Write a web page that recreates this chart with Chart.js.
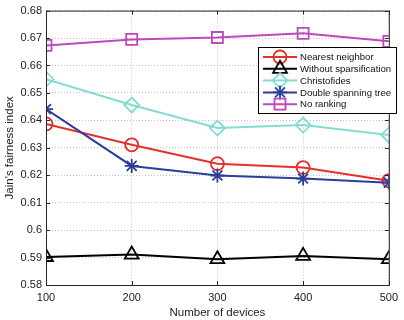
<!DOCTYPE html>
<html>
<head>
<meta charset="utf-8">
<script src="https://cdn.jsdelivr.net/npm/chart.js@4/dist/chart.umd.min.js"></script>
<style>
  body { margin: 0; background: #fff; }
  #wrap { width: 404px; height: 320px; }
</style>
</head>
<body>
<div id="wrap"><canvas id="grafico"></canvas></div>
<script>
// Datos
const devices = [100, 200, 300, 400, 500];
const nearestNeighbor = [0.6387, 0.6311, 0.6242, 0.6228, 0.6180];
const withoutSparsification = [0.5902, 0.5911, 0.5894, 0.5906, 0.5894];
const christofides = [0.6550, 0.6456, 0.6372, 0.6383, 0.6347];
const doubleSpanningTree = [0.6441, 0.6234, 0.6199, 0.6188, 0.6173];
const noRanking = [0.6673, 0.6695, 0.6702, 0.6717, 0.6688];
const yTicks = [0.58, 0.59, 0.6, 0.61, 0.62, 0.63, 0.64, 0.65, 0.66, 0.67, 0.68];
const xTicks = [100, 200, 300, 400, 500];

const FONT = "'Liberation Sans', Arial, Helvetica, sans-serif";

function puntos(valores) {
    return devices.map((d, i) => ({ x: d, y: valores[i] }));
}

function serie(label, valores, color, estilo, radio, orden) {
    return {
        label: label,
        data: puntos(valores),
        borderColor: color,
        backgroundColor: 'transparent',
        borderWidth: 2,
        pointStyle: estilo,
        pointRadius: radio,
        pointHoverRadius: radio,
        pointBorderColor: color,
        pointBackgroundColor: 'transparent',
        pointBorderWidth: 1.8,
        tension: 0,
        order: orden,
    };
}

// Caja, marcas interiores y leyenda al estilo MATLAB
const marcoYLeyenda = {
    id: 'marcoYLeyenda',
    afterDraw(chart) {
        const ctx = chart.ctx;
        const a = chart.chartArea;
        const sx = chart.scales.x;
        const sy = chart.scales.y;
        ctx.save();
        ctx.strokeStyle = '#262626';
        ctx.lineWidth = 1;
        ctx.strokeRect(a.left + 0.5, a.top + 0.5, a.right - a.left, a.bottom - a.top);
        ctx.beginPath();
        xTicks.forEach((v) => {
            const px = Math.round(sx.getPixelForValue(v)) + 0.5;
            ctx.moveTo(px, a.bottom); ctx.lineTo(px, a.bottom - 4);
            ctx.moveTo(px, a.top); ctx.lineTo(px, a.top + 4);
        });
        yTicks.forEach((v) => {
            const py = Math.round(sy.getPixelForValue(v)) + 0.5;
            ctx.moveTo(a.left, py); ctx.lineTo(a.left + 4, py);
            ctx.moveTo(a.right, py); ctx.lineTo(a.right - 4, py);
        });
        ctx.stroke();

        // Leyenda
        const bx = 258, by = 47, bw = 138, bh = 66;
        ctx.fillStyle = '#fff';
        ctx.fillRect(bx, by, bw, bh);
        ctx.strokeStyle = '#000';
        ctx.strokeRect(bx + 0.5, by + 0.5, bw, bh);
        ctx.textBaseline = 'middle';
        chart.data.datasets.forEach((ds, i) => {
            const yy = by + 10 + i * 11.8;
            ctx.strokeStyle = ds.borderColor;
            ctx.lineWidth = 2;
            ctx.beginPath();
            ctx.moveTo(263, yy); ctx.lineTo(297, yy);
            ctx.stroke();
            ctx.lineWidth = 1.8;
            ctx.fillStyle = 'rgba(0,0,0,0)';
            Chart.helpers.drawPoint(ctx, {
                pointStyle: ds.pointStyle,
                radius: ds.pointRadius,
                rotation: 0,
                borderWidth: 1.8,
            }, 280, yy);
            ctx.font = '9.6px ' + FONT;
            ctx.fillStyle = '#111';
            ctx.fillText(ds.label, 300, yy + 0.5);
        });
        ctx.restore();
    },
};

const ctxGrafico = document.getElementById('grafico').getContext('2d');
new Chart(ctxGrafico, {
    type: 'line',
    data: {
        datasets: [
            serie('Nearest neighbor', nearestNeighbor, '#e2302a', 'circle', 6.5, 5),
            serie('Without sparsification', withoutSparsification, '#000000', 'triangle', 8, 4),
            serie('Christofides', christofides, '#82dcd2', 'rectRot', 7.5, 3),
            serie('Double spanning tree', doubleSpanningTree, '#2c3d9c', 'star', 7, 2),
            serie('No ranking', noRanking, '#bf48bd', 'rect', 7.8, 1),
        ],
    },
    options: {
        responsive: true,
        maintainAspectRatio: false,
        animation: false,
        layout: { padding: { top: 9, right: 8, left: 0, bottom: 0 } },
        plugins: {
            legend: { display: false },
            tooltip: { enabled: false },
        },
        scales: {
            x: {
                type: 'linear',
                min: 100,
                max: 500,
                afterBuildTicks: (scale) => { scale.ticks = xTicks.map((v) => ({ value: v })); },
                afterFit: (scale) => { scale.height = 35; },
                ticks: { font: { family: FONT, size: 11 }, color: '#222', padding: 6, maxRotation: 0 },
                grid: { color: '#c4c4c4', drawTicks: false },
                border: { display: false, dash: [1, 2] },
                title: {
                    display: true,
                    text: 'Number of devices',
                    font: { family: FONT, size: 11.5 },
                    color: '#222',
                    padding: { top: 1, bottom: 0 },
                },
            },
            y: {
                min: 0.58,
                max: 0.68,
                afterBuildTicks: (scale) => { scale.ticks = yTicks.map((v) => ({ value: v })); },
                afterFit: (scale) => { scale.width = 46; },
                ticks: {
                    font: { family: FONT, size: 11 },
                    color: '#222',
                    padding: 4,
                    callback: (v) => String(+Number(v).toFixed(2)),
                },
                grid: { color: '#c4c4c4', drawTicks: false },
                border: { display: false, dash: [1, 2] },
                title: {
                    display: true,
                    text: "Jain's fairness index",
                    font: { family: FONT, size: 11.5 },
                    color: '#222',
                    padding: { top: 3, bottom: 0 },
                },
            },
        },
    },
    plugins: [marcoYLeyenda],
});
</script>
</body>
</html>
